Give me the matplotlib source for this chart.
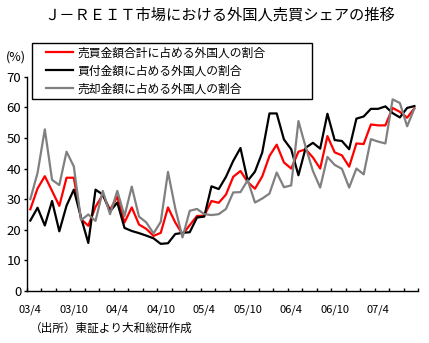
import matplotlib
matplotlib.use('Agg')
import matplotlib.pyplot as plt
from matplotlib.patches import Rectangle

plt.rcParams['font.family'] = ['Noto Sans CJK JP', 'DejaVu Sans']

# monthly categories 03/4 .. 07/9
months = []
for y in range(3, 8):
    for m in range(1, 13):
        if (y == 3 and m < 4) or (y == 7 and m > 9):
            continue
        months.append(f'{y:02d}/{m}')

tick_labels = ['03/4', '03/10', '04/4', '04/10', '05/4', '05/10', '06/4', '06/10', '07/4']

# share of foreign investors (%)
total_share = [26.7, 33.5, 37.5, 32.7, 27.8, 37.0, 37.0, 23.5, 21.3, 27.5,
               31.5, 26.5, 30.8, 22.4, 27.3, 21.7, 20.3, 18.0, 19.0, 27.3,
               22.4, 18.5, 21.5, 24.5, 24.6, 29.4, 28.8, 31.5, 37.3, 39.2,
               35.6, 33.4, 37.4, 44.1, 47.8, 42.0, 40.0, 45.5, 46.3, 43.6,
               40.0, 50.6, 45.3, 44.3, 40.6, 48.2, 48.0, 54.4, 54.1, 54.1,
               59.8, 58.5, 56.6, 59.7]
buy_share = [23.0, 27.2, 21.4, 29.4, 19.5, 27.9, 33.1, 24.0, 15.7, 33.1,
             31.5, 26.0, 28.9, 20.6, 19.6, 18.9, 18.1, 17.2, 15.4, 15.6,
             18.6, 19.0, 19.2, 24.0, 24.3, 34.2, 33.3, 37.3, 42.5, 46.7,
             36.0, 39.0, 45.2, 58.0, 58.0, 49.5, 46.3, 37.8, 46.8, 48.4,
             46.5, 57.9, 49.3, 49.0, 46.3, 56.3, 57.0, 59.5, 59.5, 60.3,
             58.1, 56.7, 59.8, 60.4]
sell_share = [30.0, 38.6, 52.8, 36.3, 34.6, 45.5, 40.7, 23.1, 25.0, 22.9,
              32.7, 25.1, 32.7, 24.5, 34.1, 24.3, 22.4, 18.8, 22.6, 38.9,
              27.0, 17.5, 26.2, 26.8, 25.1, 24.8, 25.1, 26.8, 32.2, 32.3,
              36.2, 28.9, 30.2, 31.8, 38.7, 33.9, 34.5, 55.5, 47.0, 39.2,
              33.8, 43.8, 41.2, 39.9, 33.8, 40.0, 38.1, 49.6, 48.8, 48.2,
              62.6, 61.4, 53.8, 59.6]

labels = ['売買金額合計に占める外国人の割合',
          '買付金額に占める外国人の割合',
          '売却金額に占める外国人の割合']

W, H = 429, 343
fig = plt.figure(figsize=(W / 100, H / 100), dpi=100)
ax = fig.add_axes([26.7 / W, 1 - 291 / H, (418 - 26.7) / W, (291 - 76.7) / H])

x = list(range(len(months)))
ax.plot(x, total_share, color='#ff0000', lw=1.6, label=labels[0])
ax.plot(x, buy_share, color='black', lw=1.6, label=labels[1])
ax.plot(x, sell_share, color='#808080', lw=1.6, label=labels[2])

ax.set_xlim(-0.5, len(months) - 0.5)
ax.set_ylim(0, 70)
ax.set_yticks(range(0, 71, 10))
ax.tick_params(axis='y', direction='out', length=2, width=1, labelsize=9.5, pad=2)

pos = [months.index(t) for t in tick_labels]
ax.set_xticks(pos)
ax.set_xticklabels(tick_labels)
ax.set_xticks([i - 0.5 for i in range(0, len(months) + 1, 2)], minor=True)
ax.tick_params(axis='x', which='major', length=0, labelsize=8, pad=10)
ax.tick_params(axis='x', which='minor', direction='in', length=2.5, width=1)

for s in ['top', 'right']:
    ax.spines[s].set_visible(False)
for s in ['left', 'bottom']:
    ax.spines[s].set_linewidth(1)

fig.text(220 / W, 1 - 15 / H, 'Ｊ－ＲＥＩＴ市場における外国人売買シェアの推移',
         ha='center', va='center', fontsize=11)
fig.text(16 / W, 1 - 57 / H, '(%)', ha='center', va='center', fontsize=9)
fig.text(30 / W, 1 - 328 / H, '（出所）東証より大和総研作成',
         ha='left', va='center', fontsize=8.4)

leg = ax.legend(loc='upper left', bbox_to_anchor=(46 / W, 1 - 46.5 / H),
                bbox_transform=fig.transFigure, frameon=False, fontsize=8.5,
                handlelength=2.3, handletextpad=0.4, borderpad=0,
                labelspacing=0.42, borderaxespad=0)
fig.add_artist(Rectangle((31.7 / W, 1 - 99 / H), (312.3 - 31.7) / W, (99 - 42.7) / H,
                         transform=fig.transFigure, fill=False, ec='black', lw=1))

fig.savefig('out.png', dpi=100)
